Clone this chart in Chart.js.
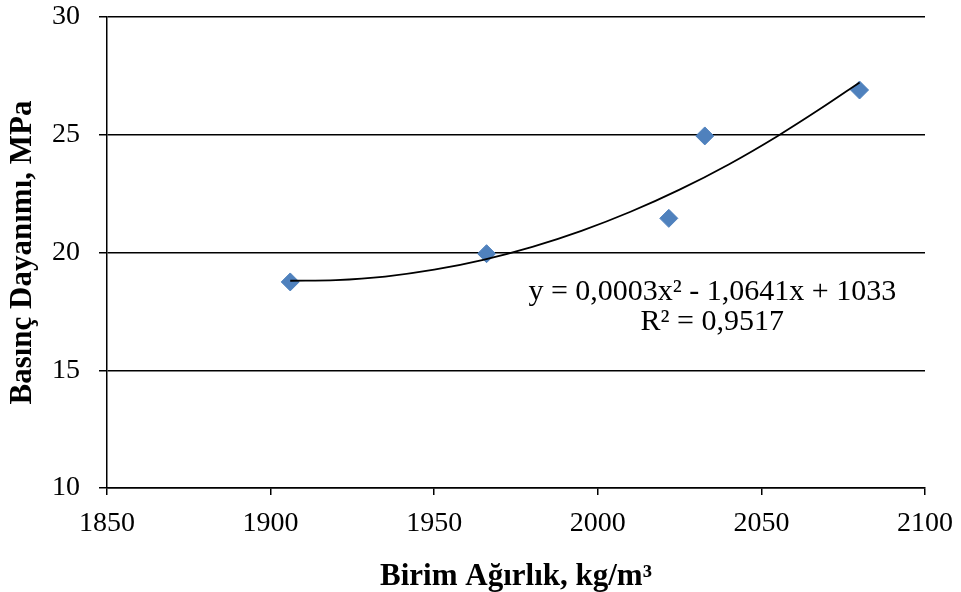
<!DOCTYPE html>
<html lang="tr">
  <head>
    <meta charset="UTF-8" />
    <title>Basınç Dayanımı - Birim Ağırlık</title>
    <style>
      body {
        margin: 0;
        background-color: #ffffff;
      }
      canvas {
        display: block;
      }
    </style>
  </head>
  <body>
    <canvas id="chart" width="961" height="592"></canvas>

    <script src="https://cdn.jsdelivr.net/npm/chart.js@4"></script>
    <script>
      // measured points (unit weight, compressive strength)
      var unitWeight = [1906, 1966, 2021.7, 2032.7, 2080];
      var strength = [18.75, 19.95, 21.45, 24.95, 26.9];

      // polynomial trendline
      var trendX = [1906, 1920, 1935, 1950, 1965, 1980, 1995, 2010, 2025, 2040, 2055, 2068, 2080];
      var trendY = [18.8, 18.83, 18.98, 19.27, 19.69, 20.24, 20.92, 21.73, 22.67, 23.74, 24.95, 26.1, 27.22];

      var xTicks = [1850, 1900, 1950, 2000, 2050, 2100];
      var yTicks = [10, 15, 20, 25, 30];

      var equationLines = ["y = 0,0003x² - 1,0641x + 1033", "R² = 0,9517"];

      var serif = "'Liberation Serif', 'Times New Roman', serif";

      function toPoints(xs, ys) {
        var pts = [];
        for (var i = 0; i < xs.length; i++) {
          pts.push({ x: xs[i], y: ys[i] });
        }
        return pts;
      }

      function plainLabel(value) {
        return String(value);
      }

      var equationPlugin = {
        id: "equation",
        afterDraw: function (chart) {
          var ctx = chart.ctx;
          var xs = chart.scales.x;
          var ys = chart.scales.y;
          var cx = xs.getPixelForValue(2035);
          var top = ys.getPixelForValue(18.3);
          ctx.save();
          ctx.font = "30px " + serif;
          ctx.fillStyle = "#000";
          ctx.textAlign = "center";
          ctx.textBaseline = "middle";
          ctx.fillText(equationLines[0], cx, top);
          ctx.fillText(equationLines[1], cx, top + 30);
          ctx.restore();
        },
      };

      var ctx = document.getElementById("chart").getContext("2d");
      var chart = new Chart(ctx, {
        type: "scatter",
        data: {
          datasets: [
            {
              label: "Ölçüm",
              data: toPoints(unitWeight, strength),
              pointStyle: "rectRot",
              pointRadius: 9,
              pointHoverRadius: 9,
              backgroundColor: "#4F81BD",
              borderColor: "#4F81BD",
              borderWidth: 1,
              order: 1,
            },
            {
              label: "Eğilim",
              data: toPoints(trendX, trendY),
              showLine: true,
              pointRadius: 0,
              borderColor: "#000",
              borderWidth: 1.8,
              cubicInterpolationMode: "monotone",
              order: 0,
            },
          ],
        },
        options: {
          responsive: false,
          animation: false,
          layout: {
            padding: { left: 0, top: 17, right: 36, bottom: 0 },
          },
          plugins: {
            legend: { display: false },
            tooltip: { enabled: false },
          },
          scales: {
            x: {
              type: "linear",
              min: 1850,
              max: 2100,
              afterBuildTicks: function (scale) {
                scale.ticks = xTicks.map(function (v) {
                  return { value: v };
                });
              },
              afterFit: function (scale) {
                scale.height = 104;
                scale.paddingLeft = 0;
                scale.paddingRight = 0;
              },
              border: { color: "#000", width: 1.5 },
              grid: {
                drawOnChartArea: false,
                color: "#000",
                lineWidth: 1.5,
                tickLength: 7,
              },
              ticks: {
                color: "#000",
                font: { family: serif, size: 28 },
                padding: 12,
                maxRotation: 0,
                callback: plainLabel,
              },
              title: {
                display: true,
                text: "Birim Ağırlık, kg/m³",
                color: "#000",
                font: { family: serif, size: 31, weight: "bold", lineHeight: 1.0 },
                padding: { top: 0, bottom: 0 },
              },
            },
            y: {
              min: 10,
              max: 30,
              afterBuildTicks: function (scale) {
                scale.ticks = yTicks.map(function (v) {
                  return { value: v };
                });
              },
              afterFit: function (scale) {
                scale.width = 107;
                scale.paddingTop = 0;
                scale.paddingBottom = 0;
              },
              border: { color: "#000", width: 1.5 },
              grid: {
                color: "#000",
                lineWidth: 1.5,
                tickLength: 8,
              },
              ticks: {
                color: "#000",
                font: { family: serif, size: 28 },
                padding: 19,
                callback: plainLabel,
              },
              title: {
                display: true,
                text: "Basınç Dayanımı, MPa",
                color: "#000",
                font: { family: serif, size: 31, weight: "bold", lineHeight: 1.0 },
                padding: { top: 7, bottom: 0 },
              },
            },
          },
        },
        plugins: [equationPlugin],
      });
    </script>
  </body>
</html>
